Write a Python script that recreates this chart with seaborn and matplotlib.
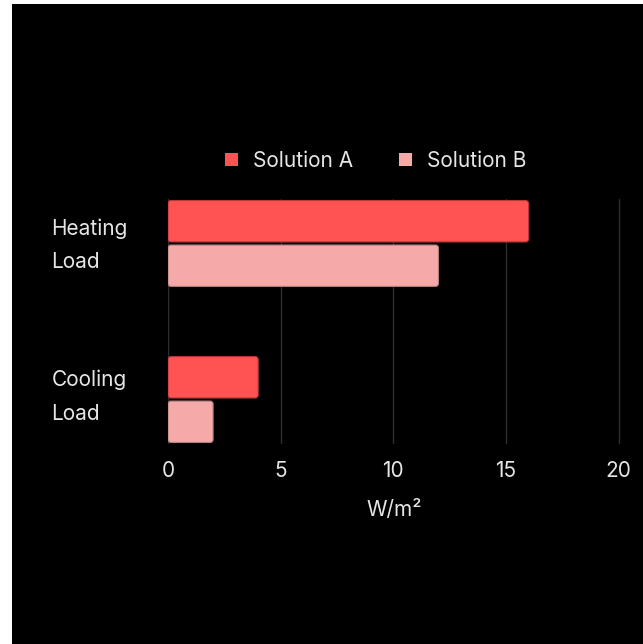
import matplotlib
matplotlib.use("Agg")
import matplotlib.pyplot as plt
import matplotlib.transforms as mtransforms
from matplotlib.patches import FancyBboxPatch, Rectangle
import seaborn as sns
import pandas as pd

categories = ["Heating\nLoad", "Cooling\nLoad"]
series_names = ["Solution A", "Solution B"]
solution_a = [16, 4]
solution_b = [12, 2]
x_ticks = [0, 5, 10, 15, 20]
x_label = "W/m²"

colors = ["#FF5252", "#F5A9A9"]
edge_colors = ["#B83A3A", "#B58080"]
text_color = "#E6E6E6"

df = pd.DataFrame({
    "category": categories * 2,
    "series": [series_names[0]] * 2 + [series_names[1]] * 2,
    "value": solution_a + solution_b,
})

sns.set_theme(style="dark")
plt.rcParams["font.family"] = ["Inter", "DejaVu Sans"]
FS = 15

fig = plt.figure(figsize=(6.43, 6.44), dpi=100)
fig.patch.set_facecolor("white")
bg = Rectangle((12 / 643, 0), 1 - 12 / 643, 1 - 4 / 644,
               transform=fig.transFigure, facecolor="black",
               edgecolor="none", zorder=-10)
fig.patches.append(bg)

ax = fig.add_axes([168 / 643, 1 - 444 / 644, (621 - 168) / 643, (444 - 199) / 644])
ax.set_facecolor("black")
ax.set_zorder(1)

sns.barplot(data=df, y="category", x="value", hue="series", orient="h",
            palette=colors, saturation=1, width=0.57, gap=0.07, ax=ax, zorder=3)

# replace rectangles with rounded boxes
bars = [p for p in ax.patches if isinstance(p, Rectangle) and p.get_width() > 0]
for p in list(bars):
    x0, y0 = p.get_x(), p.get_y()
    w, h = p.get_width(), p.get_height()
    fc = p.get_facecolor()
    idx = 0 if fc[1] < 0.5 else 1
    rb = FancyBboxPatch((x0, y0), w, h,
                        boxstyle="round,pad=0,rounding_size=0.13",
                        mutation_aspect=0.1445,
                        facecolor=fc, edgecolor=edge_colors[idx],
                        linewidth=0.8, zorder=3)
    ax.add_patch(rb)
    p.set_visible(False)

ax.set_xlim(0, 20.1)
ax.set_ylim(1.285, -0.285)
ax.set_xticks(x_ticks)
ax.set_xticklabels([str(t) for t in x_ticks])
ax.set_yticks(range(len(categories)))
ax.set_yticklabels(categories, ha="left", linespacing=1.85)
ax.grid(axis="x", color="#2E2E2E", linewidth=1, zorder=0)
ax.grid(axis="y", visible=False)
for s in ax.spines.values():
    s.set_visible(False)

ax.tick_params(axis="x", length=0, pad=12, labelsize=FS, colors=text_color)
ax.tick_params(axis="y", length=0, pad=84, labelsize=FS, colors=text_color)

# nudge the two-line category labels upward
shifts_pt = [5, 8.5]
for lbl, dy in zip(ax.get_yticklabels(), shifts_pt):
    lbl.set_transform(lbl.get_transform() +
                      mtransforms.ScaledTranslation(0, dy / 72, fig.dpi_scale_trans))

ax.set_ylabel("")
ax.set_xlabel(x_label, color=text_color, fontsize=FS, labelpad=14)

sns.move_legend(ax, "center", bbox_to_anchor=(376 / 643, 1 - 161 / 644),
                bbox_transform=fig.transFigure, ncol=2, frameon=False,
                title=None, fontsize=FS, handlelength=0.6, handleheight=0.6,
                handletextpad=0.75, columnspacing=2.2, labelcolor=text_color)
for h in ax.get_legend().legend_handles:
    h.set_edgecolor("none")

fig.savefig("out.png", dpi=100, facecolor=fig.get_facecolor())
